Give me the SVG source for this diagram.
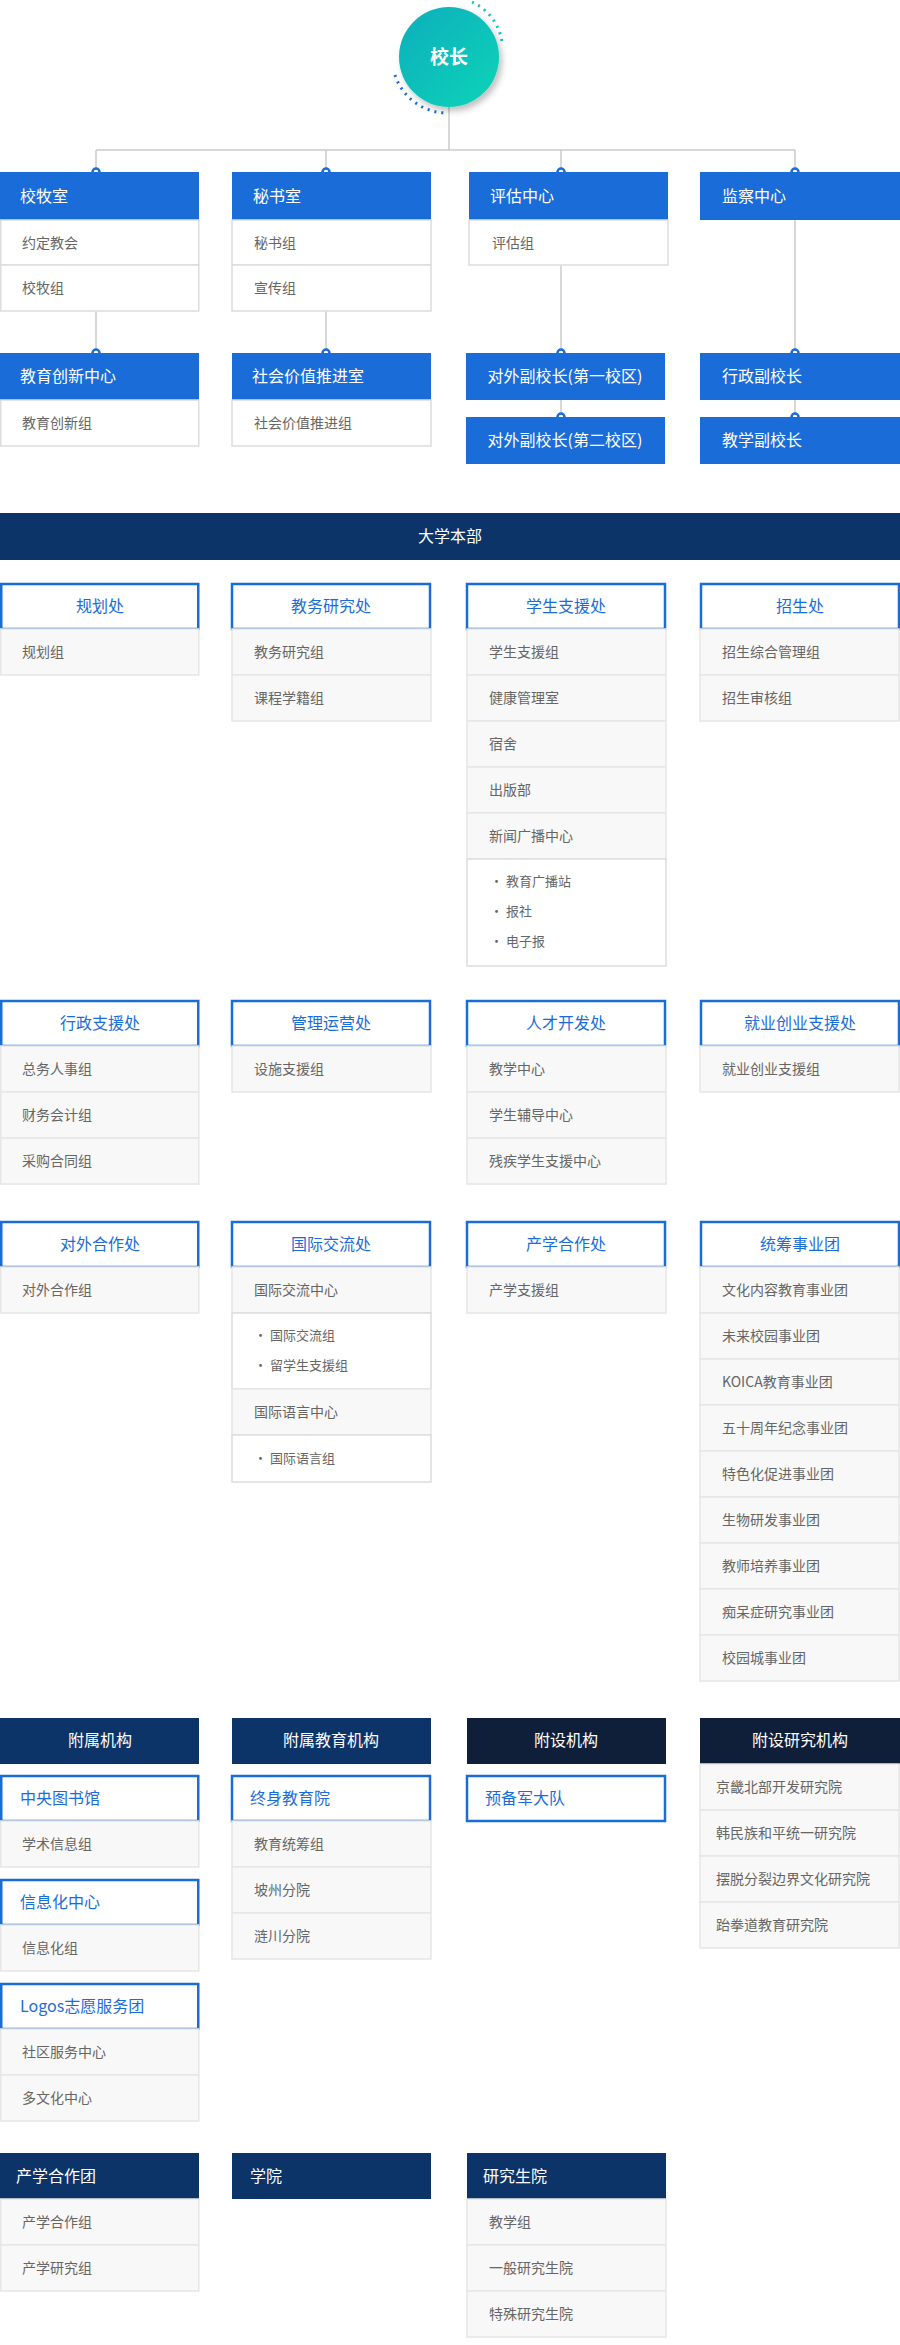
<svg xmlns="http://www.w3.org/2000/svg" width="900" height="2345" viewBox="0 0 900 2345">
<defs>
<style>
text{font-family:"Noto Sans CJK SC","Liberation Sans",sans-serif;font-size:15px}
.hb{fill:#1a6dd8}
.ht{fill:#fff;font-size:16px}
.it{fill:#666;font-size:14px}
.rw{fill:#fff;stroke:#ddd;stroke-width:1.5}
.rg{fill:#f8f8f8;stroke:#e6e6e6;stroke-width:1.5}
.ob{fill:#fff;stroke:#1a6dd8;stroke-width:2.5}
.ot{fill:#1a6dd8;font-size:16px}
.dk{fill:#0c3468}
.dk2{fill:#0f1f3a}
.ln{stroke:#ccc;stroke-width:1.5;fill:none}
.dot{fill:#fff;stroke:#1a6dd8;stroke-width:2.5}
</style>
<linearGradient id="g" x1="0" y1="0" x2="1" y2="1"><stop offset="0" stop-color="#0aaebc"/><stop offset="1" stop-color="#08d4b8"/></linearGradient>
<filter id="sh"><feDropShadow dx="3" dy="4" stdDeviation="3" flood-opacity="0.25"/></filter>
</defs>
<g id="connectors">
<path class="ln" d="M449 100V150M96 150H795M96 150V172M326 150V172M561 150V172M795 150V172M96 311V353M326 311V353M561 265V353M561 400V417M795 220V353M795 400V417"/>
<circle class="dot" cx="96" cy="172" r="3.5"/><circle class="dot" cx="326" cy="172" r="3.5"/><circle class="dot" cx="561" cy="172" r="3.5"/><circle class="dot" cx="795" cy="172" r="3.5"/>
<circle class="dot" cx="96" cy="353" r="3.5"/><circle class="dot" cx="326" cy="353" r="3.5"/><circle class="dot" cx="561" cy="353" r="3.5"/><circle class="dot" cx="795" cy="353" r="3.5"/>
<circle class="dot" cx="561" cy="417" r="3.5"/><circle class="dot" cx="795" cy="417" r="3.5"/>
</g>
<g id="president">
<path d="M472 2 A52 52 0 0 1 502 42" fill="none" stroke="#0ec4c0" stroke-width="3" stroke-dasharray="2 5"/>
<path d="M395 75 A55 55 0 0 0 446 113" fill="none" stroke="#1a6dd8" stroke-width="3" stroke-dasharray="2 5"/>
<circle cx="449" cy="57" r="50" fill="url(#g)" filter="url(#sh)"/>
<text x="449" y="64" text-anchor="middle" fill="#fff" style="font-size:19px;font-weight:bold">校长</text>
</g>
<g id="n-xiaomu"><rect class="hb" x="0" y="172" width="199" height="48"/><text class="ht" x="20" y="202">校牧室</text>
<rect class="rw" x="0.75" y="220" width="198" height="45"/><text class="it" x="22" y="248">约定教会</text>
<rect class="rw" x="0.75" y="265" width="198" height="46"/><text class="it" x="22" y="293">校牧组</text></g>
<g id="n-mishu"><rect class="hb" x="232" y="172" width="199" height="48"/><text class="ht" x="253" y="202">秘书室</text>
<rect class="rw" x="232" y="220" width="199" height="45"/><text class="it" x="254" y="248">秘书组</text>
<rect class="rw" x="232" y="265" width="199" height="46"/><text class="it" x="254" y="293">宣传组</text></g>
<g id="n-pinggu"><rect class="hb" x="469" y="172" width="199" height="48"/><text class="ht" x="490" y="202">评估中心</text>
<rect class="rw" x="469" y="220" width="199" height="45"/><text class="it" x="492" y="248">评估组</text></g>
<g id="n-jiancha"><rect class="hb" x="700" y="172" width="200" height="48"/><text class="ht" x="722" y="202">监察中心</text></g>
<g id="n-chuangxin"><rect class="hb" x="0" y="353" width="199" height="47"/><text class="ht" x="20" y="382">教育创新中心</text>
<rect class="rw" x="0.75" y="400" width="198" height="46"/><text class="it" x="22" y="428">教育创新组</text></g>
<g id="n-shehui"><rect class="hb" x="232" y="353" width="199" height="47"/><text class="ht" x="252" y="382">社会价值推进室</text>
<rect class="rw" x="232" y="400" width="199" height="46"/><text class="it" x="254" y="428">社会价值推进组</text></g>
<g id="n-duiwai1"><rect class="hb" x="466" y="353" width="199" height="47"/><text class="ht" x="565" y="382" text-anchor="middle">对外副校长(第一校区)</text></g>
<g id="n-duiwai2"><rect class="hb" x="466" y="417" width="199" height="47"/><text class="ht" x="565" y="446" text-anchor="middle">对外副校长(第二校区)</text></g>
<g id="n-xingzheng"><rect class="hb" x="700" y="353" width="200" height="47"/><text class="ht" x="722" y="382">行政副校长</text></g>
<g id="n-jiaoxue"><rect class="hb" x="700" y="417" width="200" height="47"/><text class="ht" x="722" y="446">教学副校长</text></g>
<g id="n-benbu"><rect class="dk" x="0" y="513" width="900" height="47"/><text class="ht" x="450" y="542" text-anchor="middle">大学本部</text></g>
<g id="n-guihua"><rect class="ob" x="1.25" y="584" width="197" height="45"/><text class="ot" x="100" y="612" text-anchor="middle">规划处</text>
<rect class="rg" x="0.75" y="629" width="198" height="46"/><text class="it" x="22" y="657">规划组</text></g>
<g id="n-jiaowu"><rect class="ob" x="232" y="584" width="198" height="45"/><text class="ot" x="331" y="612" text-anchor="middle">教务研究处</text>
<rect class="rg" x="232" y="629" width="199" height="46"/><text class="it" x="254" y="657">教务研究组</text>
<rect class="rg" x="232" y="675" width="199" height="46"/><text class="it" x="254" y="703">课程学籍组</text></g>
<g id="n-xuesheng"><rect class="ob" x="467" y="584" width="198" height="45"/><text class="ot" x="566" y="612" text-anchor="middle">学生支援处</text>
<rect class="rg" x="467" y="629" width="199" height="46"/><text class="it" x="489" y="657">学生支援组</text>
<rect class="rg" x="467" y="675" width="199" height="46"/><text class="it" x="489" y="703">健康管理室</text>
<rect class="rg" x="467" y="721" width="199" height="46"/><text class="it" x="489" y="749">宿舍</text>
<rect class="rg" x="467" y="767" width="199" height="46"/><text class="it" x="489" y="795">出版部</text>
<rect class="rg" x="467" y="813" width="199" height="46"/><text class="it" x="489" y="841">新闻广播中心</text>
<rect class="rw" x="467" y="859" width="199" height="107"/>
<text class="it" x="490" y="886" style="font-size:13px">· 教育广播站</text><text class="it" x="490" y="916" style="font-size:13px">· 报社</text><text class="it" x="490" y="946" style="font-size:13px">· 电子报</text></g>
<g id="n-zhaosheng"><rect class="ob" x="701" y="584" width="198" height="45"/><text class="ot" x="800" y="612" text-anchor="middle">招生处</text>
<rect class="rg" x="700" y="629" width="199" height="46"/><text class="it" x="722" y="657">招生综合管理组</text>
<rect class="rg" x="700" y="675" width="199" height="46"/><text class="it" x="722" y="703">招生审核组</text></g>
<g id="n-xzzy"><rect class="ob" x="1.25" y="1001" width="197" height="45"/><text class="ot" x="100" y="1029" text-anchor="middle">行政支援处</text>
<rect class="rg" x="0.75" y="1046" width="198" height="46"/><text class="it" x="22" y="1074">总务人事组</text>
<rect class="rg" x="0.75" y="1092" width="198" height="46"/><text class="it" x="22" y="1120">财务会计组</text>
<rect class="rg" x="0.75" y="1138" width="198" height="46"/><text class="it" x="22" y="1166">采购合同组</text></g>
<g id="n-glyy"><rect class="ob" x="232" y="1001" width="198" height="45"/><text class="ot" x="331" y="1029" text-anchor="middle">管理运营处</text>
<rect class="rg" x="232" y="1046" width="199" height="46"/><text class="it" x="254" y="1074">设施支援组</text></g>
<g id="n-rckf"><rect class="ob" x="467" y="1001" width="198" height="45"/><text class="ot" x="566" y="1029" text-anchor="middle">人才开发处</text>
<rect class="rg" x="467" y="1046" width="199" height="46"/><text class="it" x="489" y="1074">教学中心</text>
<rect class="rg" x="467" y="1092" width="199" height="46"/><text class="it" x="489" y="1120">学生辅导中心</text>
<rect class="rg" x="467" y="1138" width="199" height="46"/><text class="it" x="489" y="1166">残疾学生支援中心</text></g>
<g id="n-jycy"><rect class="ob" x="701" y="1001" width="198" height="45"/><text class="ot" x="800" y="1029" text-anchor="middle">就业创业支援处</text>
<rect class="rg" x="700" y="1046" width="199" height="46"/><text class="it" x="722" y="1074">就业创业支援组</text></g>
<g id="n-dwhz"><rect class="ob" x="1.25" y="1222" width="197" height="45"/><text class="ot" x="100" y="1250" text-anchor="middle">对外合作处</text>
<rect class="rg" x="0.75" y="1267" width="198" height="46"/><text class="it" x="22" y="1295">对外合作组</text></g>
<g id="n-gjjl"><rect class="ob" x="232" y="1222" width="198" height="45"/><text class="ot" x="331" y="1250" text-anchor="middle">国际交流处</text>
<rect class="rg" x="232" y="1267" width="199" height="46"/><text class="it" x="254" y="1295">国际交流中心</text>
<rect class="rw" x="232" y="1313" width="199" height="76"/>
<text class="it" x="254" y="1340" style="font-size:13px">· 国际交流组</text><text class="it" x="254" y="1370" style="font-size:13px">· 留学生支援组</text>
<rect class="rg" x="232" y="1389" width="199" height="46"/><text class="it" x="254" y="1417">国际语言中心</text>
<rect class="rw" x="232" y="1435" width="199" height="47"/><text class="it" x="254" y="1463" style="font-size:13px">· 国际语言组</text></g>
<g id="n-cxhz"><rect class="ob" x="467" y="1222" width="198" height="45"/><text class="ot" x="566" y="1250" text-anchor="middle">产学合作处</text>
<rect class="rg" x="467" y="1267" width="199" height="46"/><text class="it" x="489" y="1295">产学支援组</text></g>
<g id="n-tcsyt"><rect class="ob" x="701" y="1222" width="198" height="45"/><text class="ot" x="800" y="1250" text-anchor="middle">统筹事业团</text>
<rect class="rg" x="700" y="1267" width="199" height="46"/><text class="it" x="722" y="1295">文化内容教育事业团</text>
<rect class="rg" x="700" y="1313" width="199" height="46"/><text class="it" x="722" y="1341">未来校园事业团</text>
<rect class="rg" x="700" y="1359" width="199" height="46"/><text class="it" x="722" y="1387">KOICA教育事业团</text>
<rect class="rg" x="700" y="1405" width="199" height="46"/><text class="it" x="722" y="1433">五十周年纪念事业团</text>
<rect class="rg" x="700" y="1451" width="199" height="46"/><text class="it" x="722" y="1479">特色化促进事业团</text>
<rect class="rg" x="700" y="1497" width="199" height="46"/><text class="it" x="722" y="1525">生物研发事业团</text>
<rect class="rg" x="700" y="1543" width="199" height="46"/><text class="it" x="722" y="1571">教师培养事业团</text>
<rect class="rg" x="700" y="1589" width="199" height="46"/><text class="it" x="722" y="1617">痴呆症研究事业团</text>
<rect class="rg" x="700" y="1635" width="199" height="46"/><text class="it" x="722" y="1663">校园城事业团</text></g>
<g id="n-fushu"><rect class="dk" x="0" y="1718" width="199" height="46"/><text class="ht" x="100" y="1746" text-anchor="middle">附属机构</text>
<rect class="ob" x="1.25" y="1776" width="197" height="45"/><text class="ot" x="20" y="1804">中央图书馆</text>
<rect class="rg" x="0.75" y="1821" width="198" height="46"/><text class="it" x="22" y="1849">学术信息组</text>
<rect class="ob" x="1.25" y="1880" width="197" height="45"/><text class="ot" x="20" y="1908">信息化中心</text>
<rect class="rg" x="0.75" y="1925" width="198" height="46"/><text class="it" x="22" y="1953">信息化组</text>
<rect class="ob" x="1.25" y="1984" width="197" height="45"/><text class="ot" x="20" y="2012">Logos志愿服务团</text>
<rect class="rg" x="0.75" y="2029" width="198" height="46"/><text class="it" x="22" y="2057">社区服务中心</text>
<rect class="rg" x="0.75" y="2075" width="198" height="46"/><text class="it" x="22" y="2103">多文化中心</text></g>
<g id="n-fsjy"><rect class="dk" x="232" y="1718" width="199" height="46"/><text class="ht" x="331" y="1746" text-anchor="middle">附属教育机构</text>
<rect class="ob" x="232" y="1776" width="198" height="45"/><text class="ot" x="250" y="1804">终身教育院</text>
<rect class="rg" x="232" y="1821" width="199" height="46"/><text class="it" x="254" y="1849">教育统筹组</text>
<rect class="rg" x="232" y="1867" width="199" height="46"/><text class="it" x="254" y="1895">坡州分院</text>
<rect class="rg" x="232" y="1913" width="199" height="46"/><text class="it" x="254" y="1941">涟川分院</text></g>
<g id="n-fushe"><rect class="dk2" x="467" y="1718" width="199" height="46"/><text class="ht" x="566" y="1746" text-anchor="middle">附设机构</text>
<rect class="ob" x="467" y="1776" width="198" height="45"/><text class="ot" x="485" y="1804">预备军大队</text></g>
<g id="n-fsyj"><rect class="dk2" x="700" y="1718" width="200" height="46"/><text class="ht" x="800" y="1746" text-anchor="middle">附设研究机构</text>
<rect class="rg" x="700" y="1764" width="199" height="46"/><text class="it" x="716" y="1792">京畿北部开发研究院</text>
<rect class="rg" x="700" y="1810" width="199" height="46"/><text class="it" x="716" y="1838">韩民族和平统一研究院</text>
<rect class="rg" x="700" y="1856" width="199" height="46"/><text class="it" x="716" y="1884">摆脱分裂边界文化研究院</text>
<rect class="rg" x="700" y="1902" width="199" height="46"/><text class="it" x="716" y="1930">跆拳道教育研究院</text></g>
<g id="n-cxhzt"><rect class="dk" x="0" y="2153" width="199" height="46"/><text class="ht" x="16" y="2182">产学合作团</text>
<rect class="rg" x="0.75" y="2199" width="198" height="46"/><text class="it" x="22" y="2227">产学合作组</text>
<rect class="rg" x="0.75" y="2245" width="198" height="46"/><text class="it" x="22" y="2273">产学研究组</text></g>
<g id="n-xueyuan"><rect class="dk" x="232" y="2153" width="199" height="46"/><text class="ht" x="250" y="2182">学院</text></g>
<g id="n-yjsy"><rect class="dk" x="467" y="2153" width="199" height="46"/><text class="ht" x="483" y="2182">研究生院</text>
<rect class="rg" x="467" y="2199" width="199" height="46"/><text class="it" x="489" y="2227">教学组</text>
<rect class="rg" x="467" y="2245" width="199" height="46"/><text class="it" x="489" y="2273">一般研究生院</text>
<rect class="rg" x="467" y="2291" width="199" height="46"/><text class="it" x="489" y="2319">特殊研究生院</text></g>
</svg>
